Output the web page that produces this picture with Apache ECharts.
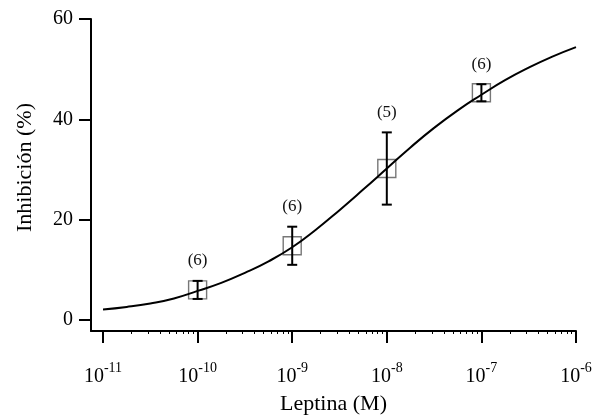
<!DOCTYPE html>
<html>
<head>
<meta charset="utf-8">
<script src="https://cdn.jsdelivr.net/npm/echarts@6/dist/echarts.min.js"></script>
<style>
  html, body { margin: 0; padding: 0; background: #fff; }
  #chart { width: 594px; height: 417px; }
</style>
</head>
<body>
<div id="chart"></div>
<script>
// log10 of leptin concentration (M)
const doseLog = [-10, -9, -8, -7]
const inhibition = [6.0, 14.8, 30.2, 45.3]
const sem = [1.8, 3.8, 7.2, 1.7]
const nCounts = [6, 6, 5, 6]

// fitted curve
const fitLog = [-11, -10.75, -10.5, -10.25, -10, -9.75, -9.5, -9.25, -9, -8.75, -8.5, -8.25, -8, -7.75, -7.5, -7.25, -7, -6.75, -6.5, -6.25, -6]
const fitValues = [2.1, 2.6, 3.3, 4.3, 5.8, 7.4, 9.4, 11.7, 14.5, 18.0, 21.9, 26.0, 30.2, 34.4, 38.3, 41.8, 44.9, 47.8, 50.3, 52.5, 54.4]

const xTicks = [-11, -10, -9, -8, -7, -6]
const yTicks = [0, 20, 40, 60]

const minorTicks = []
xTicks.slice(0, -1).forEach(n => {
  for (let k = 2; k <= 9; k++) minorTicks.push(n + Math.log10(k))
})

const serif = '"Liberation Serif", "DejaVu Serif", serif'
const xMin = -11.127, xMax = -6

const chart = echarts.init(document.getElementById('chart'))

chart.setOption({
  animation: false,
  textStyle: { fontFamily: serif, color: '#000' },
  grid: { left: 91, right: 18, top: 19, bottom: 86, containLabel: false, outerBoundsMode: 'none' },
  xAxis: [{
    type: 'value',
    min: xMin,
    max: xMax,
    name: 'Leptina (M)',
    nameLocation: 'middle',
    nameGap: 62,
    nameTextStyle: { fontFamily: serif, fontSize: 22, color: '#000' },
    axisLine: { onZero: false, lineStyle: { color: '#000', width: 2 } },
    axisTick: { customValues: xTicks, length: 12, lineStyle: { color: '#000', width: 2 } },
    axisLabel: {
      customValues: xTicks,
      margin: 30,
      formatter: v => '{b|10}{s|' + Math.round(v) + '}',
      rich: {
        b: { fontFamily: serif, fontSize: 20, lineHeight: 26, verticalAlign: 'bottom', color: '#000' },
        s: { fontFamily: serif, fontSize: 14, lineHeight: 26, verticalAlign: 'top', color: '#000' }
      }
    },
    splitLine: { show: false }
  }, {
    type: 'value',
    min: xMin,
    max: xMax,
    position: 'bottom',
    axisLine: { show: false, onZero: false },
    axisTick: { customValues: minorTicks, length: 3, lineStyle: { color: '#000', width: 1 } },
    axisLabel: { show: false },
    splitLine: { show: false }
  }],
  yAxis: {
    type: 'value',
    min: -2.19,
    max: 60,
    name: 'Inhibición (%)',
    nameLocation: 'middle',
    nameGap: 55,
    nameTextStyle: { fontFamily: serif, fontSize: 22, color: '#000', padding: [0, 0, 0, 15] },
    axisLine: { onZero: false, lineStyle: { color: '#000', width: 2 } },
    axisTick: { customValues: yTicks, length: 12, lineStyle: { color: '#000', width: 2 } },
    axisLabel: { customValues: yTicks, margin: 18, fontFamily: serif, fontSize: 20, color: '#000' },
    splitLine: { show: false }
  },
  series: [{
    type: 'scatter',
    data: doseLog.map((d, i) => [d, inhibition[i]]),
    symbol: 'rect',
    symbolSize: 18,
    itemStyle: { color: 'rgba(0,0,0,0)', borderColor: '#555', borderWidth: 1.4 },
    z: 2
  }, {
    type: 'custom',
    data: doseLog.map((d, i) => [d, inhibition[i], sem[i], nCounts[i]]),
    encode: { x: 0, y: 1 },
    renderItem(params, api) {
      const x = api.value(0), m = api.value(1), e = api.value(2)
      const top = api.coord([x, m + e])
      const bot = api.coord([x, m - e])
      const cw = 5
      const st = { stroke: '#000', lineWidth: 2 }
      return {
        type: 'group',
        children: [
          { type: 'line', shape: { x1: top[0], y1: top[1], x2: bot[0], y2: bot[1] }, style: st },
          { type: 'line', shape: { x1: top[0] - cw, y1: top[1], x2: top[0] + cw, y2: top[1] }, style: st },
          { type: 'line', shape: { x1: bot[0] - cw, y1: bot[1], x2: bot[0] + cw, y2: bot[1] }, style: st },
          {
            type: 'text', x: top[0], y: top[1] - 20,
            style: { text: '(' + api.value(3) + ')', align: 'center', verticalAlign: 'middle', font: '17px ' + serif, fill: '#111' }
          }
        ]
      }
    },
    z: 3
  }, {
    type: 'line',
    data: fitLog.map((d, i) => [d, fitValues[i]]),
    smooth: true,
    symbol: 'none',
    lineStyle: { color: '#000', width: 2 },
    z: 4
  }]
})
</script>
</body>
</html>
